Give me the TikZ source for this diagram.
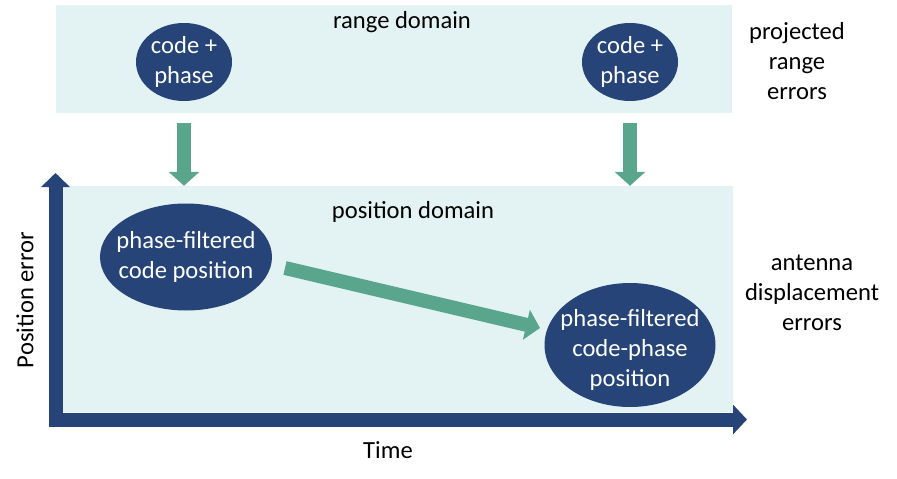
\documentclass[tikz,border=0pt]{standalone}
\usepackage{fontspec}
\setmainfont{Carlito}
\usepackage{xcolor}
\usepackage{tikz}
\usetikzlibrary{positioning,shapes,arrows.meta}
\definecolor{navy}{HTML}{264478}
\definecolor{flowgreen}{HTML}{5AA68C}
\definecolor{band}{HTML}{E3F2F3}
\tikzset{
    bandbox/.style={rectangle, fill=band, inner sep=0pt},
    oval/.style={ellipse, fill=navy, inner sep=0pt},
    ovaltext/.style={align=center, text=white, font=\fontsize{24.6}{29.8}\selectfont},
    note/.style={align=center, font=\fontsize{24.6}{30}\selectfont},
    flow/.style={-{Triangle[length=14pt,width=30pt]}, line width=14pt, color=flowgreen},
    axis/.style={{Triangle[length=14pt,width=28pt]}-{Triangle[length=14pt,width=29pt]}, line width=14pt, color=navy, miter limit=4}
}
\begin{document}
\begin{tikzpicture}[x=1pt, y=-1pt]
\useasboundingbox (0,0) rectangle (897,479);
\node[bandbox, minimum width=676pt, minimum height=108pt] (range) at (394,59) {};
\node[note] (rangelab) at (402,22) {range domain};
\node[bandbox, minimum width=671pt, minimum height=226pt] (pos) at (397.5,299) {};
\node[note] (poslab) at (413,212) {position domain};
\node[oval, minimum width=96pt, minimum height=78pt, label={[ovaltext]center:code +\\phase}] (cp1) at (184,62) {};
\node[oval, minimum width=96pt, minimum height=78pt, label={[ovaltext]center:code +\\phase}] (cp2) at (630,62) {};
\node[oval, minimum width=172pt, minimum height=107pt, label={[ovaltext]center:phase-filtered\\code position}] (pf1) at (186,257) {};
\node[oval, minimum width=171pt, minimum height=124pt, label={[ovaltext, yshift=-5pt]center:phase-filtered\\code-phase\\position}] (pf2) at (630,345) {};
\node[note] (proj) at (797,61) {projected\\range\\errors};
\node[note] (disp) at (812,293) {antenna\\displacement\\errors};
\node[note, rotate=90] (ylab) at (25,300) {Position error};
\node[note] (xlab) at (388,450) {Time};
\coordinate (d1) at (285,268);
\coordinate (d2) at (540,328);
\coordinate (orig) at (55.5,419.5);
\draw[flow] ([yshift=-10pt]cp1.south |- range.south) -- (cp1.south |- pos.north);
\draw[flow] ([yshift=-10pt]cp2.south |- range.south) -- (cp2.south |- pos.north);
\draw[flow] (d1) -- (d2);
\draw[axis] (orig |- 0,173) -- (orig) -- (747,419.5);
\end{tikzpicture}
\end{document}
